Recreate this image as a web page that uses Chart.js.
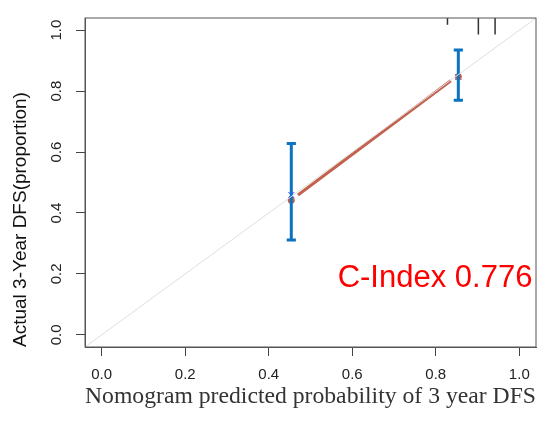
<!DOCTYPE html>
<html>
<head>
<meta charset="utf-8">
<script src="https://cdn.jsdelivr.net/npm/chart.js@4"></script>
<style>
  html, body { margin: 0; padding: 0; background: #fff; }
  #wrap { width: 546px; height: 423px; }
</style>
</head>
<body>
<div id="wrap"><canvas id="cal"></canvas></div>
<script>
// Calibration plot — nomogram predicted vs actual 3-year DFS
const TICKS = [0, 0.2, 0.4, 0.6, 0.8, 1.0];
const predX = [0.454, 0.854];          // mean predicted probability per group
const obsY = [0.442, 0.847];           // observed proportion (red dots)
const obsLower = [0.311, 0.770];       // error bar lower
const obsUpper = [0.628, 0.935];       // error bar upper
const crossY = [0.459, 0.847];         // blue "x" marks
const lineX = [0.470, 0.836];          // red connecting line
const lineY = [0.459, 0.834];
const rugX = [0.828, 0.902, 0.942];    // distribution ticks along the top
const rugLen = [0.022, 0.054, 0.054];
const CINDEX = "C-Index 0.776";

const LO = -0.04, HI = 1.04, CAP = 0.011;
const RED = "#c4614f", BLUE = "#0b74c0";

// segments with null breaks between them
const errData = [];
predX.forEach((x, i) => {
  errData.push({ x, y: obsLower[i] }, { x, y: obsUpper[i] }, { x, y: null });
  errData.push({ x: x - CAP, y: obsUpper[i] }, { x: x + CAP, y: obsUpper[i] }, { x, y: null });
  errData.push({ x: x - CAP, y: obsLower[i] }, { x: x + CAP, y: obsLower[i] }, { x, y: null });
});
const rugData = [];
rugX.forEach((x, i) => rugData.push({ x, y: HI }, { x, y: HI - rugLen[i] }, { x, y: null }));

const boxAndText = {
  id: "boxAndText",
  afterDatasetsDraw(c) {
    const { ctx, chartArea: a, scales } = c;
    ctx.save();
    ctx.strokeStyle = "#555"; ctx.lineWidth = 1;
    ctx.strokeRect(a.left, a.top, a.right - a.left, a.bottom - a.top);
    ctx.fillStyle = "#ff0000";
    ctx.font = "31px 'Liberation Sans', Arial, sans-serif";
    ctx.textBaseline = "alphabetic"; ctx.textAlign = "left";
    ctx.fillText(CINDEX, scales.x.getPixelForValue(0.565), scales.y.getPixelForValue(0.157));
    ctx.restore();
  },
};

const fixTicks = (s) => { s.ticks = TICKS.map((v) => ({ value: v })); };

new Chart(document.getElementById("cal"), {
  type: "scatter",
  data: { datasets: [
    { data: [{ x: LO, y: LO }, { x: HI, y: HI }], showLine: true, borderColor: "#dedede", borderWidth: 1, pointRadius: 0 },
    { data: lineX.map((x, i) => ({ x, y: lineY[i] })), showLine: true, borderColor: RED, borderWidth: 3, pointRadius: 0 },
    { data: errData, showLine: true, spanGaps: false, borderColor: BLUE, borderWidth: 3, pointRadius: 0 },
    { data: predX.map((x, i) => ({ x, y: obsY[i] })), pointRadius: 3.5, backgroundColor: RED, borderColor: RED, borderWidth: 0 },
    { data: predX.map((x, i) => ({ x, y: crossY[i] })), pointStyle: "crossRot", pointRadius: 4, borderColor: "#2020ff", borderWidth: 1 },
    { data: rugData, showLine: true, spanGaps: false, borderColor: "#333", borderWidth: 1.5, pointRadius: 0 },
  ] },
  options: {
    responsive: true, maintainAspectRatio: false, animation: false,
    layout: { padding: { top: 9, right: 10, left: 0, bottom: 0 } },
    plugins: { legend: { display: false }, tooltip: { enabled: false } },
    scales: {
      x: {
        type: "linear", min: LO, max: HI, afterBuildTicks: fixTicks,
        afterFit: (s) => { s.height = 76; },
        grid: { drawOnChartArea: false, drawTicks: true, tickLength: 9, color: "#444" },
        border: { display: true, color: "#555" },
        ticks: { color: "#222", padding: 10, font: { family: "'Liberation Sans', Arial, sans-serif", size: 15 }, callback: (v) => v.toFixed(1) },
        title: { display: true, text: "Nomogram predicted probability of 3 year DFS", color: "#333",
          font: { family: "'Liberation Serif', 'Times New Roman', serif", size: 24 }, padding: { top: 2, bottom: 12 } },
      },
      y: {
        type: "linear", min: LO, max: HI, afterBuildTicks: fixTicks,
        afterFit: (s) => { s.width = 85; },
        grid: { drawOnChartArea: false, drawTicks: true, tickLength: 9, color: "#444" },
        border: { display: true, color: "#555" },
        ticks: { color: "#222", padding: 9, minRotation: 90, maxRotation: 90, crossAlign: "center",
          font: { family: "'Liberation Sans', Arial, sans-serif", size: 15 }, callback: (v) => v.toFixed(1) },
        title: { display: true, align: "start", text: "Actual 3-Year DFS(proportion)", color: "#111",
          font: { family: "'Liberation Sans', Arial, sans-serif", size: 19 }, padding: { top: 9, bottom: 0 } },
      },
    },
  },
  plugins: [boxAndText],
});
</script>
</body>
</html>
